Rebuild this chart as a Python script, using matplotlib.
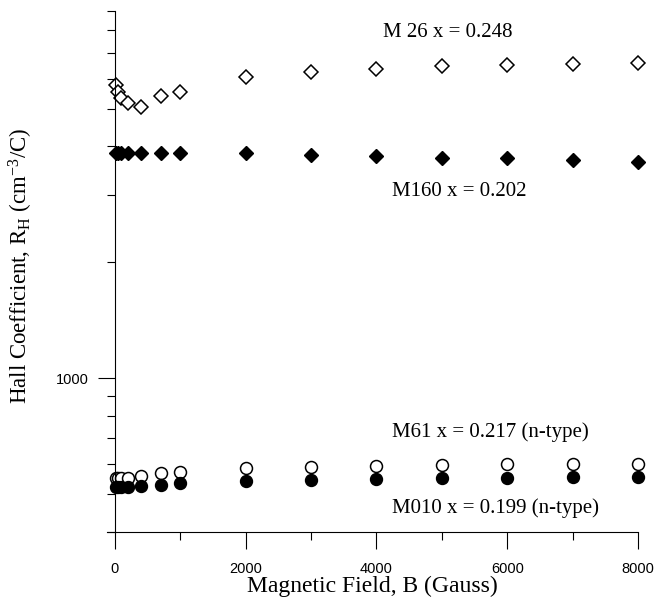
import matplotlib
matplotlib.use("Agg")
import matplotlib.pyplot as plt
from matplotlib.ticker import NullFormatter

plt.rcParams['mathtext.fontset'] = 'custom'
plt.rcParams['mathtext.rm'] = 'Liberation Serif'
plt.rcParams['mathtext.it'] = 'Liberation Serif:italic'

# magnetic field steps (Gauss)
field = [20, 50, 100, 200, 400, 700, 1000, 2000, 3000, 4000, 5000, 6000, 7000, 8000]

# Hall coefficient R_H (cm^3/C) per sample
m26 = [5780, 5550, 5340, 5180, 5060, 5390, 5520, 6040, 6230, 6360, 6450, 6510, 6550, 6600]
m160 = [3840, 3840, 3840, 3840, 3840, 3840, 3840, 3840, 3800, 3780, 3740, 3730, 3690, 3650]
m61 = [550, 550, 550, 550, 558, 567, 572, 586, 589, 593, 596, 598, 599, 601]
m010 = [521, 521, 521, 521, 525, 530, 534, 541, 544, 547, 550, 553, 554, 556]

labels = ["M 26 x = 0.248", "M160 x = 0.202",
          "M61 x = 0.217 (n-type)", "M010 x = 0.199 (n-type)"]
label_x = [4100, 4236, 4236, 4236]
label_y = [7880, 3050, 727, 460]

serif = 'Liberation Serif'
sans = 'Liberation Sans'

fig = plt.figure(figsize=(6.54, 6.03), dpi=100)
ax = fig.add_axes([0.1631, 0.1182, 0.8124, 0.8641])

ax.plot(field, m26, linestyle='none', marker='D', markersize=6.8,
        markerfacecolor='white', markeredgecolor='black', markeredgewidth=1.1, clip_on=False)
ax.plot(field, m160, linestyle='none', marker='D', markersize=6.8,
        markerfacecolor='black', markeredgecolor='black', clip_on=False)
ax.plot(field, m61, linestyle='none', marker='o', markersize=8.6,
        markerfacecolor='white', markeredgecolor='black', markeredgewidth=1.1, clip_on=False)
ax.plot(field, m010, linestyle='none', marker='o', markersize=8.6,
        markerfacecolor='black', markeredgecolor='black', clip_on=False)

for txt, tx, ty in zip(labels, label_x, label_y):
    ax.text(tx, ty, txt, family=serif, fontsize=15, ha='left', va='center')

ax.set_yscale('log')
ax.set_xlim(-125, 8000)
ax.set_ylim(400, 9000)

ax.spines['top'].set_visible(False)
ax.spines['right'].set_visible(False)
ax.spines['left'].set_position(('data', 0))
for s in ('left', 'bottom'):
    ax.spines[s].set_linewidth(0.8)

ax.set_xticks([0, 2000, 4000, 6000, 8000])
ax.set_xticks([1000, 3000, 5000, 7000], minor=True)
ax.set_yticks([1000])
ax.set_yticklabels(['1000'])
ax.set_yticks([400, 500, 600, 700, 800, 900, 2000, 3000, 4000, 5000,
               6000, 7000, 8000, 9000], minor=True)
ax.yaxis.set_minor_formatter(NullFormatter())

ax.tick_params(axis='x', which='major', direction='out', length=12, width=0.8,
               pad=10, labelsize=10.5)
ax.tick_params(axis='x', which='minor', direction='out', length=6, width=0.8)
ax.tick_params(axis='y', which='major', direction='out', length=12, width=0.8,
               pad=7, labelsize=10.5)
ax.tick_params(axis='y', which='minor', direction='out', length=6, width=0.8)
for lab in ax.get_xticklabels() + ax.get_yticklabels():
    lab.set_family(sans)

ax.set_xlabel('Magnetic Field, B (Gauss)', family=serif, fontsize=17, labelpad=-0.5)
ax.set_ylabel(r'Hall Coefficient, R$_\mathrm{H}$ (cm$^{\mathrm{-3}}$/C)',
              family=serif, fontsize=16.5)
ax.yaxis.set_label_coords(-0.135, 0.51)

fig.savefig('out.png', dpi=100)
